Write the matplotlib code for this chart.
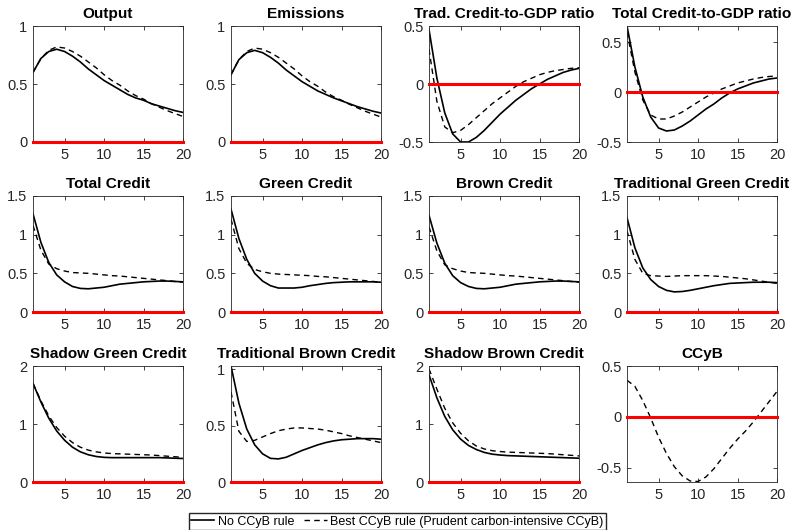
import numpy as np
import matplotlib
matplotlib.use('Agg')
import matplotlib.pyplot as plt

plt.rcParams['font.family'] = ['Liberation Sans', 'DejaVu Sans']

# 冲击响应的期数
periods = np.arange(1, 21)

titles = ['Output', 'Emissions', 'Trad. Credit-to-GDP ratio', 'Total Credit-to-GDP ratio',
          'Total Credit', 'Green Credit', 'Brown Credit', 'Traditional Green Credit',
          'Shadow Green Credit', 'Traditional Brown Credit', 'Shadow Brown Credit', 'CCyB']

# 无CCyB规则(实线)
no_ccyb = [
    [0.60, 0.72, 0.78, 0.80, 0.78, 0.74, 0.69, 0.63, 0.58, 0.53, 0.49, 0.45, 0.41, 0.38, 0.36, 0.33, 0.31, 0.29, 0.27, 0.255],
    [0.58, 0.71, 0.77, 0.79, 0.77, 0.73, 0.68, 0.62, 0.57, 0.52, 0.48, 0.44, 0.41, 0.38, 0.355, 0.33, 0.305, 0.285, 0.265, 0.25],
    [0.47, 0.05, -0.25, -0.43, -0.50, -0.50, -0.46, -0.40, -0.33, -0.26, -0.20, -0.14, -0.09, -0.04, 0.00, 0.04, 0.07, 0.10, 0.12, 0.135],
    [0.66, 0.25, -0.05, -0.25, -0.36, -0.39, -0.38, -0.34, -0.29, -0.23, -0.17, -0.12, -0.06, -0.01, 0.03, 0.06, 0.09, 0.11, 0.13, 0.14],
    [1.27, 0.90, 0.64, 0.48, 0.39, 0.33, 0.305, 0.30, 0.31, 0.32, 0.34, 0.36, 0.37, 0.38, 0.39, 0.395, 0.40, 0.40, 0.395, 0.39],
    [1.33, 0.95, 0.68, 0.50, 0.40, 0.34, 0.31, 0.31, 0.31, 0.32, 0.34, 0.355, 0.37, 0.38, 0.385, 0.39, 0.39, 0.39, 0.39, 0.385],
    [1.25, 0.89, 0.63, 0.47, 0.38, 0.33, 0.305, 0.30, 0.31, 0.32, 0.34, 0.36, 0.37, 0.38, 0.39, 0.395, 0.40, 0.40, 0.395, 0.39],
    [1.22, 0.83, 0.57, 0.42, 0.33, 0.28, 0.26, 0.265, 0.28, 0.30, 0.32, 0.34, 0.355, 0.37, 0.375, 0.38, 0.385, 0.385, 0.385, 0.38],
    [1.70, 1.38, 1.10, 0.88, 0.72, 0.60, 0.52, 0.47, 0.44, 0.425, 0.42, 0.42, 0.42, 0.42, 0.42, 0.42, 0.42, 0.415, 0.41, 0.405],
    [1.03, 0.70, 0.47, 0.33, 0.25, 0.21, 0.205, 0.22, 0.25, 0.28, 0.305, 0.33, 0.35, 0.365, 0.375, 0.38, 0.385, 0.385, 0.385, 0.38],
    [1.85, 1.45, 1.13, 0.90, 0.74, 0.63, 0.56, 0.51, 0.48, 0.465, 0.455, 0.45, 0.445, 0.44, 0.435, 0.43, 0.425, 0.42, 0.415, 0.41],
    [0.0] * 20,
]

# 最优CCyB规则(虚线)
best_ccyb = [
    [0.60, 0.72, 0.79, 0.82, 0.81, 0.78, 0.74, 0.69, 0.64, 0.58, 0.53, 0.49, 0.44, 0.40, 0.37, 0.33, 0.30, 0.27, 0.245, 0.22],
    [0.58, 0.71, 0.78, 0.81, 0.80, 0.77, 0.73, 0.68, 0.63, 0.57, 0.52, 0.48, 0.43, 0.39, 0.36, 0.325, 0.295, 0.265, 0.24, 0.215],
    [0.30, -0.15, -0.37, -0.42, -0.40, -0.35, -0.29, -0.23, -0.17, -0.12, -0.07, -0.02, 0.02, 0.05, 0.08, 0.10, 0.115, 0.125, 0.135, 0.14],
    [0.60, 0.20, -0.08, -0.23, -0.27, -0.27, -0.24, -0.20, -0.15, -0.10, -0.05, -0.01, 0.03, 0.06, 0.09, 0.11, 0.13, 0.145, 0.155, 0.16],
    [1.12, 0.80, 0.62, 0.56, 0.53, 0.51, 0.505, 0.50, 0.49, 0.48, 0.47, 0.465, 0.455, 0.445, 0.435, 0.425, 0.415, 0.405, 0.395, 0.385],
    [1.20, 0.82, 0.63, 0.55, 0.52, 0.50, 0.49, 0.485, 0.48, 0.475, 0.47, 0.46, 0.455, 0.445, 0.435, 0.425, 0.415, 0.405, 0.395, 0.385],
    [1.10, 0.79, 0.61, 0.56, 0.53, 0.51, 0.505, 0.50, 0.49, 0.48, 0.47, 0.465, 0.455, 0.445, 0.435, 0.425, 0.415, 0.405, 0.395, 0.385],
    [1.05, 0.68, 0.50, 0.47, 0.465, 0.46, 0.465, 0.47, 0.47, 0.47, 0.47, 0.465, 0.46, 0.45, 0.44, 0.43, 0.415, 0.40, 0.385, 0.37],
    [1.70, 1.40, 1.14, 0.94, 0.79, 0.68, 0.60, 0.55, 0.52, 0.50, 0.49, 0.485, 0.48, 0.475, 0.47, 0.465, 0.455, 0.445, 0.435, 0.425],
    [0.80, 0.45, 0.36, 0.37, 0.40, 0.43, 0.455, 0.47, 0.48, 0.48, 0.475, 0.47, 0.46, 0.445, 0.43, 0.41, 0.395, 0.38, 0.365, 0.35],
    [1.95, 1.60, 1.27, 1.02, 0.84, 0.71, 0.62, 0.57, 0.54, 0.525, 0.515, 0.51, 0.505, 0.50, 0.495, 0.49, 0.48, 0.47, 0.46, 0.45],
    [0.36, 0.30, 0.16, -0.01, -0.20, -0.36, -0.49, -0.58, -0.63, -0.635, -0.59, -0.51, -0.41, -0.31, -0.22, -0.14, -0.05, 0.05, 0.15, 0.25],
]

# 各子图纵轴范围与刻度
ylims = [(0, 1), (0, 1), (-0.5, 0.5), (-0.5, 0.66),
         (0, 1.5), (0, 1.5), (0, 1.5), (0, 1.5),
         (0, 2), (0, 1.03), (0, 2), (-0.64, 0.5)]
yticks = [[0, 0.5, 1], [0, 0.5, 1], [-0.5, 0, 0.5], [-0.5, 0, 0.5],
          [0, 0.5, 1, 1.5], [0, 0.5, 1, 1.5], [0, 0.5, 1, 1.5], [0, 0.5, 1, 1.5],
          [0, 1, 2], [0, 0.5, 1], [0, 1, 2], [-0.5, 0, 0.5]]

W, H = 795, 530
fig = plt.figure(figsize=(W / 100, H / 100), dpi=100)

col_left = [33, 231, 429, 627]
col_w = 150
row_top = [26, 196, 366]
row_h = 116

for k in range(12):
    r, c = divmod(k, 4)
    ax = fig.add_axes([col_left[c] / W, 1 - (row_top[r] + row_h) / H, col_w / W, row_h / H])
    l1, = ax.plot(periods, no_ccyb[k], 'k-', lw=1.2)
    l2, = ax.plot(periods, best_ccyb[k], 'k--', lw=1.0, dashes=(4, 3))
    # 零线(红色),落在坐标轴边界时也要完整显示
    ax.axhline(0, color='red', lw=2.2, zorder=5, clip_on=False)
    ax.set_xlim(1, 20)
    ax.set_ylim(*ylims[k])
    ax.set_xticks([5, 10, 15, 20])
    ax.set_yticks(yticks[k])
    ax.set_yticklabels(['%g' % v for v in yticks[k]])
    ax.tick_params(direction='in', length=3, width=0.6, colors='#262626',
                   labelsize=10.5, top=True, right=True, pad=4)
    for sp in ax.spines.values():
        sp.set_color('#262626')
        sp.set_linewidth(0.6)
    ax.set_title(titles[k], fontsize=11.1, fontweight='bold', pad=6)

fig.legend([l1, l2], ['No CCyB rule', 'Best CCyB rule (Prudent carbon-intensive CCyB)'],
           loc='lower center', bbox_to_anchor=(0.5, -0.012), ncol=2, fontsize=9,
           frameon=True, fancybox=False, edgecolor='#262626', handlelength=1.8,
           handletextpad=0.3, columnspacing=0.8, borderpad=0.2, framealpha=1)

fig.savefig('out.png', dpi=100)
